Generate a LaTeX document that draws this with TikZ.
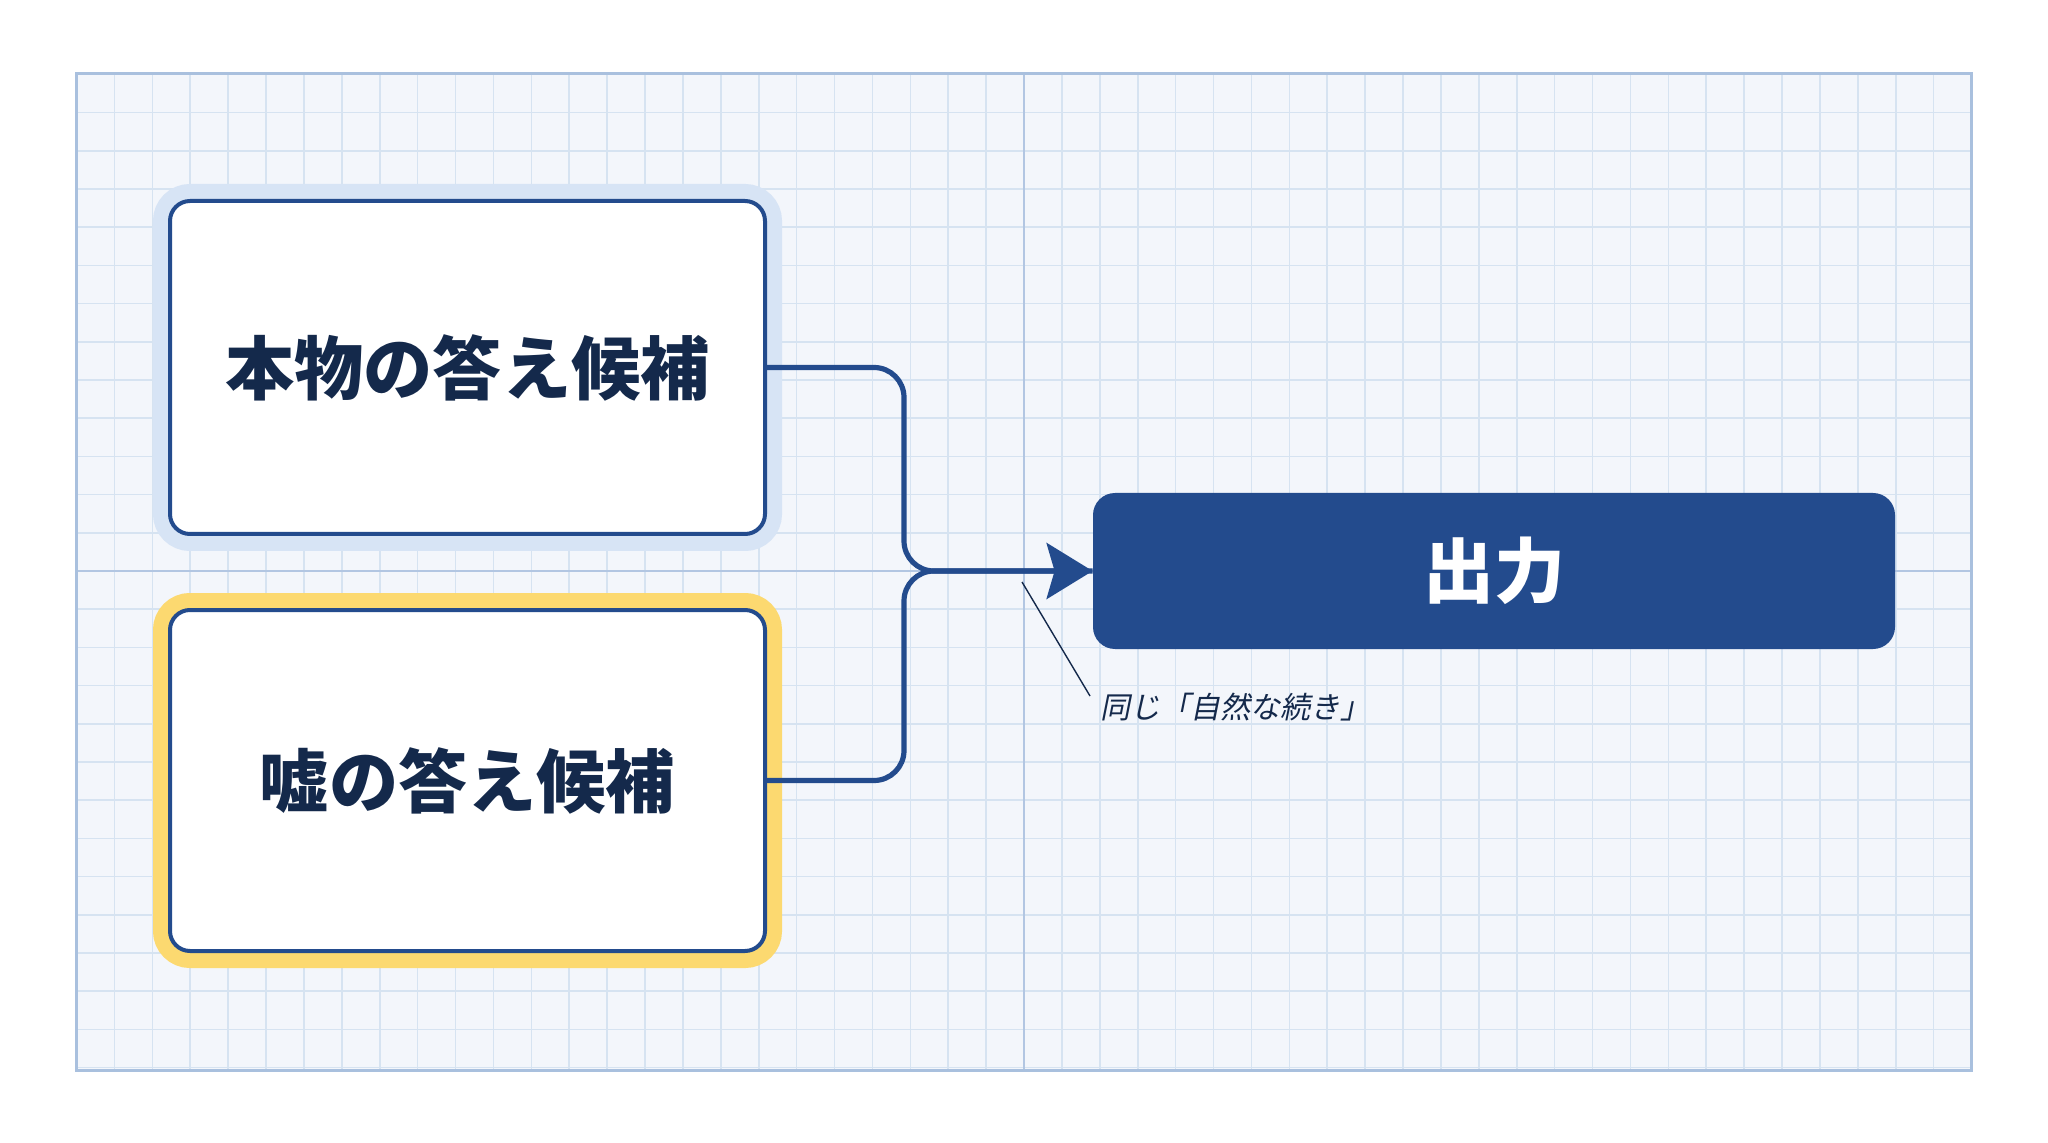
\documentclass[tikz,border=0pt]{standalone}
\usepackage{fontspec}
\newfontfamily\jp{Noto Sans CJK JP}
\newfontfamily\jpsl{Noto Sans CJK JP}[FakeSlant=0.2]
\usetikzlibrary{arrows.meta,calc}
\definecolor{navy}{HTML}{234B8D}
\definecolor{ink}{HTML}{14294B}
\definecolor{glowblue}{HTML}{D7E4F5}
\definecolor{glowyellow}{HTML}{FCD970}
\definecolor{gridbg}{HTML}{F3F6FB}
\definecolor{gridline}{HTML}{D6E3F1}
\definecolor{framec}{HTML}{A9C0DE}
\definecolor{midline}{HTML}{B2C6E2}
\begin{document}
\begin{tikzpicture}[x=0.5pt,y=-0.5pt,
  cand/.style={rounded corners=10pt, fill=white, draw=navy, line width=2pt,
    preaction={draw=#1, line width=17pt, rounded corners=10pt},
    minimum width=297.5pt, inner sep=0pt,
    text=ink, font=\jp\bfseries\fontsize{34.6pt}{40pt}\selectfont},
  outbox/.style={fill=navy, rounded corners=11pt, minimum width=401pt, minimum height=78pt,
    inner sep=0pt, text=white, font=\jp\bfseries\fontsize{35.5pt}{40pt}\selectfont},
  conn/.style={draw=navy, line width=2.6pt, rounded corners=15pt},
  note/.style={text=ink, font=\jpsl\fontsize{15pt}{17pt}\selectfont, inner sep=0pt}
]
\useasboundingbox (0,0) rectangle (2048,1143);
\fill[white] (0,0) rectangle (2048,1143);
% grid paper
\fill[gridbg] (76,74) rectangle (1971,1070);
\begin{scope}
  \clip (76,74) rectangle (1971,1070);
  \foreach \i in {-25,...,25}
    \draw[gridline, line width=0.8pt] ({1024+37.9*\i},74) -- ({1024+37.9*\i},1070);
  \foreach \j in {-14,...,14}
    \draw[gridline, line width=0.8pt] (76,{571+38.2*\j}) -- (1971,{571+38.2*\j});
\end{scope}
\draw[midline, line width=1pt] (1024,74) -- (1024,1070);
\draw[midline, line width=1pt] (76,571) -- (1971,571);
\draw[framec, line width=1.5pt] (76,74) rectangle (1971,1070);

% nodes
\node[cand=glowblue, minimum height=166.5pt] (real) at (467.5,367.5) {本物の答え候補};
\node[cand=glowyellow, minimum height=170.5pt] (fake) at (467.5,780.5) {嘘の答え候補};
\node[outbox] (out) at (1494,571) {出力};
\coordinate (j) at (904,571);

% connectors
\draw[conn] (fake.east) -| (j) -- (out.west);
\draw[conn, -{Stealth[length=23pt,width=28pt,inset=4pt]}] (real.east) -| (j) -- (out.west);

% annotation
\node[note, anchor=west] (lbl) at (1100,707) {同じ「自然な続き」};
\coordinate (a1) at (1022,582);
\coordinate (a2) at (1090,696);
\draw[ink, line width=0.7pt] (a1) -- (a2);
\end{tikzpicture}
\end{document}
